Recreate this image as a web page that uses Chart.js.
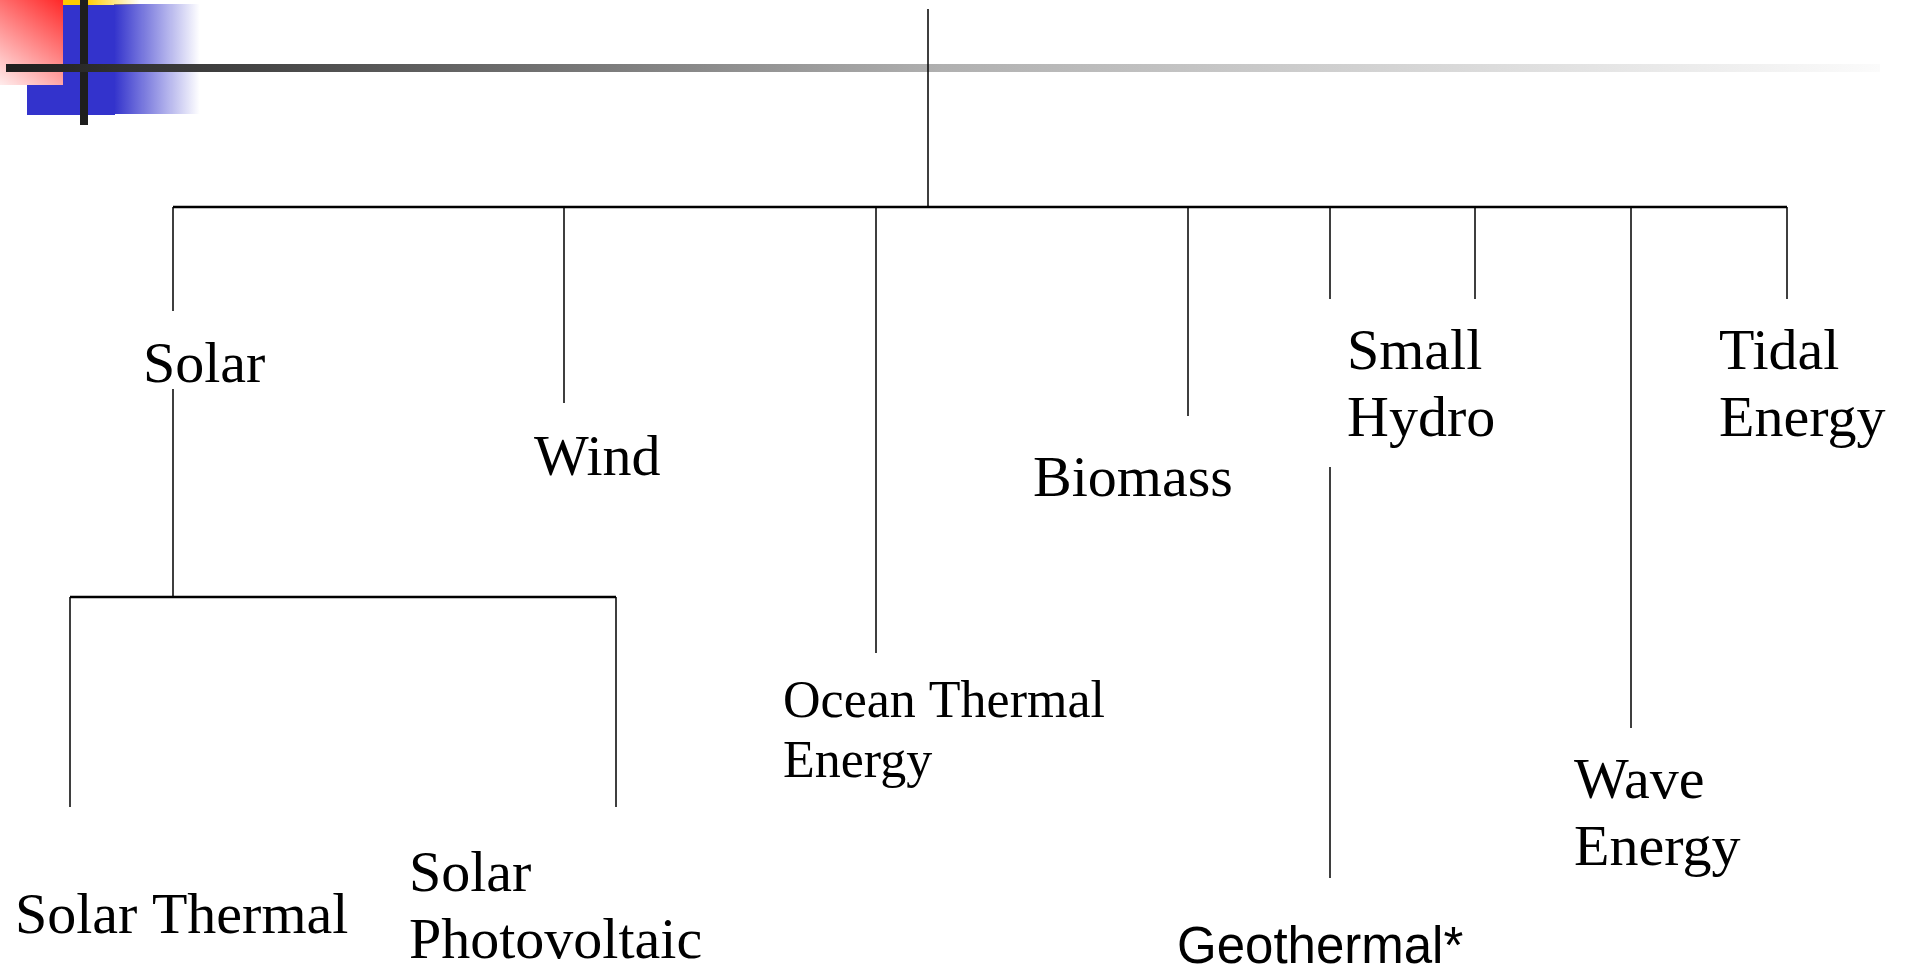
<!DOCTYPE html>
<html>
<head>
    <meta charset="UTF-8">
    <title>Renewable Energy Sources</title>
    <script src="https://cdn.jsdelivr.net/npm/chart.js"></script>
    <style>
        html, body { margin: 0; padding: 0; background: #fff; }
        #wrap { width: 1913px; height: 969px; position: relative; }
    </style>
</head>
<body>
<div id="wrap">
    <canvas id="treeChart"></canvas>
</div>

<script>
// top level branches of the tree
const categories = ['Solar', 'Wind', 'Ocean Thermal\nEnergy', 'Biomass', 'Geothermal*', 'Small\nHydro', 'Wave\nEnergy', 'Tidal\nEnergy'];
const branchX    = [173, 564, 876, 1188, 1330, 1475, 1631, 1787];
const branchEnd  = [311, 403, 653, 416, 299, 299, 728, 299];
const labelX     = [143, 534, 783, 1033, 1177, 1347, 1574, 1719];
const labelY     = [382, 475, 717, 496, 963, 369, 798, 369];

// solar sub-branches
const subCategories = ['Solar Thermal', 'Solar\nPhotovoltaic'];
const subX      = [70, 616];
const subLabelX = [15, 409];
const subLabelY = [933, 891];

const rootX = 928, rootTop = 9, busY = 207;
const solarSubTop = 389, subBusY = 597, subEnd = 807;
const geoLowerTop = 467, geoLowerEnd = 878;

function seg(x1, y1, x2, y2, w) {
    return {
        data: [{x: x1, y: y1}, {x: x2, y: y2}],
        showLine: true,
        borderColor: '#000',
        borderWidth: w,
        pointRadius: 0,
        fill: false
    };
}

var datasets = [];
datasets.push(seg(rootX, rootTop, rootX, busY, 1.5));
datasets.push(seg(branchX[0], busY, branchX[branchX.length - 1], busY, 2.5));
for (var i = 0; i < branchX.length; i++) {
    datasets.push(seg(branchX[i], busY, branchX[i], branchEnd[i], 1.5));
}
// line under "Solar" down to its own bus
datasets.push(seg(branchX[0], solarSubTop, branchX[0], subBusY, 1.5));
datasets.push(seg(subX[0], subBusY, subX[1], subBusY, 2.5));
for (var j = 0; j < subX.length; j++) {
    datasets.push(seg(subX[j], subBusY, subX[j], subEnd, 1.5));
}
// second part of the geothermal line
datasets.push(seg(branchX[4], geoLowerTop, branchX[4], geoLowerEnd, 1.5));

// slide ornament in the upper left corner
const ornament = {
    id: 'ornament',
    beforeDatasetsDraw(chart) {
        var c = chart.ctx;
        c.save();
        var g = c.createLinearGradient(114, 0, 200, 0);
        g.addColorStop(0, 'rgb(51,51,204)');
        g.addColorStop(1, 'rgba(51,51,204,0)');
        c.fillStyle = g;
        c.fillRect(114, 4, 86, 110);
        c.fillStyle = 'rgb(51,51,204)';
        c.fillRect(27, 5, 88, 110);
        g = c.createLinearGradient(63, 0, 0, 85);
        g.addColorStop(0, 'rgb(255,40,40)');
        g.addColorStop(1, 'rgb(255,236,236)');
        c.fillStyle = g;
        c.fillRect(0, 0, 63, 85);
        g = c.createLinearGradient(63, 0, 140, 0);
        g.addColorStop(0, 'rgb(255,204,0)');
        g.addColorStop(0.3, 'rgb(255,204,0)');
        g.addColorStop(1, 'rgba(255,204,0,0)');
        c.fillStyle = g;
        c.fillRect(63, 0, 77, 5);
        c.fillStyle = '#1e1e1e';
        c.fillRect(80, 0, 8, 125);
        g = c.createLinearGradient(6, 0, 1880, 0);
        g.addColorStop(0, '#1e1e1e');
        g.addColorStop(0.5, '#b0b0b0');
        g.addColorStop(1, '#fbfbfb');
        c.fillStyle = g;
        c.fillRect(6, 64, 1874, 8);
        c.restore();
    }
};

const nodeLabels = {
    id: 'nodeLabels',
    afterDatasetsDraw(chart) {
        var c = chart.ctx;
        var xs = chart.scales.x, ys = chart.scales.y;
        function put(text, x, y, font, size) {
            var lines = text.split('\n');
            c.font = size + 'px ' + font;
            for (var k = 0; k < lines.length; k++) {
                c.fillText(lines[k], xs.getPixelForValue(x), ys.getPixelForValue(y) + k * size * 1.16);
            }
        }
        c.save();
        c.fillStyle = '#000';
        c.textAlign = 'left';
        c.textBaseline = 'alphabetic';
        for (var i = 0; i < categories.length; i++) {
            if (categories[i] === 'Geothermal*') {
                put(categories[i], labelX[i], labelY[i], '"Liberation Sans", Arial, sans-serif', 51);
            } else if (i === 2) {
                put(categories[i], labelX[i], labelY[i], '"Liberation Serif", "Times New Roman", serif', 52);
            } else {
                put(categories[i], labelX[i], labelY[i], '"Liberation Serif", "Times New Roman", serif', 58);
            }
        }
        for (var j = 0; j < subCategories.length; j++) {
            put(subCategories[j], subLabelX[j], subLabelY[j], '"Liberation Serif", "Times New Roman", serif', 58);
        }
        c.restore();
    }
};

var ctx = document.getElementById('treeChart').getContext('2d');
var treeChart = new Chart(ctx, {
    type: 'scatter',
    data: { datasets: datasets },
    options: {
        responsive: true,
        maintainAspectRatio: false,
        animation: false,
        layout: { padding: 0 },
        plugins: {
            legend: { display: false },
            tooltip: { enabled: false }
        },
        scales: {
            x: { type: 'linear', min: 0, max: 1913, display: false },
            y: { type: 'linear', min: 0, max: 969, reverse: true, display: false }
        }
    },
    plugins: [ornament, nodeLabels]
});
</script>
</body>
</html>
